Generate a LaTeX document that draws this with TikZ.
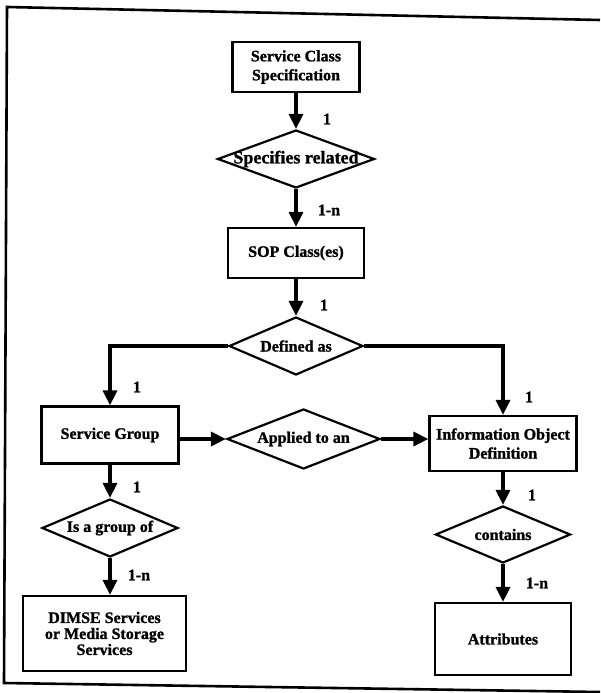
\documentclass[tikz,border=0pt]{standalone}
\usepackage{fontspec}
\setmainfont{Liberation Serif}[BoldFeatures={FakeBold=1.2}]
\usetikzlibrary{arrows.meta,shapes.geometric}
\begin{document}
\begin{tikzpicture}[x=1pt,y=-1pt,
  every node/.style={font=\bfseries\fontsize{16}{19}\selectfont},
  box/.style={draw,line width=2.2pt,rectangle,inner sep=0pt,align=center},
  dmd/.style={draw,line width=2.2pt,diamond,inner sep=0pt},
  arr/.style={line width=3.2pt,-{Triangle[width=14pt,length=15pt]}},
  card/.style={inner sep=0pt},
  frame/.style={line width=2.6pt,line join=miter}]
\useasboundingbox (0,0) rectangle (600,693);

% outer frame
\draw[frame] (600,20) -- (7,7) -- (4,683) -- (600,692);

% entities and relations
\node[box,minimum width=127,minimum height=50] (scs) at (296,67) {Service Class\\Specification};
\node[dmd,minimum width=157,minimum height=58,
      label={[font=\bfseries\fontsize{18}{18}\selectfont]center:Specifies related}] (spec) at (296,159) {};
\node[box,minimum width=136,minimum height=50] (sop) at (296,253) {SOP Class(es)};
\node[dmd,minimum width=134,minimum height=58,label=center:Defined as] (def) at (296,346) {};
\node[box,minimum width=137,minimum height=57] (sg) at (110,435) {Service Group};
\node[dmd,minimum width=153,minimum height=60,label=center:Applied to an] (ap) at (303.5,439) {};
\node[box,minimum width=147,minimum height=55] (iod) at (503,443.5) {Information Object\\Definition};
\node[dmd,minimum width=136,minimum height=58,label=center:Is a group of] (grp) at (110,528) {};
\node[box,minimum width=163,minimum height=75,font=\bfseries\fontsize{16}{16}\selectfont] (dimse) at (104.5,633.5) {DIMSE Services\\or Media Storage\\Services};
\node[dmd,minimum width=135,minimum height=57,label=center:contains] (cont) at (503,534.5) {};
\node[box,minimum width=136,minimum height=72] (attr) at (503,639) {Attributes};

% connectors
\draw[arr] (scs) -- (spec);
\draw[arr] (spec) -- (sop);
\draw[arr] (sop) -- (def);
\draw[arr] (def.west) -| (sg.north);
\draw[arr] (def.east) -| (iod.north);
\draw[arr] (sg.east |- ap.west) -- (ap.west);
\draw[arr] (ap.east) -- (ap.east -| iod.west);
\draw[arr] (sg) -- (grp);
\draw[arr] (grp.south) -- (grp.south |- dimse.north);
\draw[arr] (iod) -- (cont);
\draw[arr] (cont) -- (attr);

% cardinalities
\node[card] (k1) at (327,119) {1};
\node[card] (k2) at (329,210) {1-n};
\node[card] (k3) at (324,305) {1};
\node[card] (k4) at (137,387) {1};
\node[card] (k5) at (529,397) {1};
\node[card] (k6) at (137,487) {1};
\node[card] (k7) at (139,575) {1-n};
\node[card] (k8) at (532,495) {1};
\node[card] (k9) at (537,583) {1-n};
\end{tikzpicture}
\end{document}
